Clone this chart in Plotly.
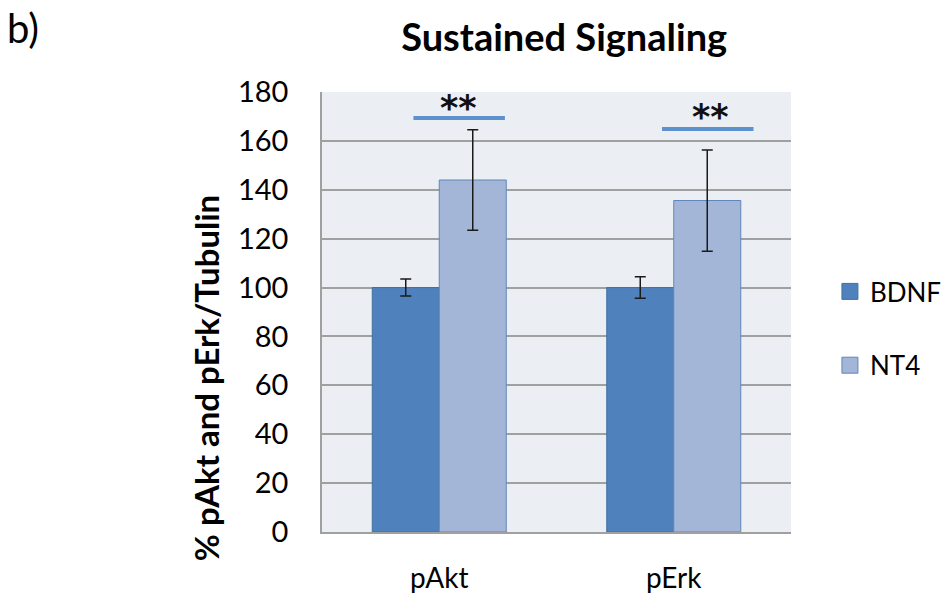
import plotly.graph_objects as go

categories = ["pAkt", "pErk"]
series_names = ["BDNF", "NT4"]
bdnf_values = [100, 100]
nt4_values = [144, 135.6]
bdnf_errors = [3.5, 4.4]
nt4_errors = [20.6, 20.7]

# significance markers: [x_start, x_end] in category units, y level, star position
sig_x0 = [-0.11, 0.95]
sig_x1 = [0.28, 1.34]
sig_y = [169.4, 164.9]
star_x = [0.084, 1.155]
star_y = [175.2, 171.4]
star_text = ["**", "**"]

FONT = "Lato"
c_bdnf = "#4F81BD"
c_nt4 = "#A4B6D8"

fig = go.Figure()
fig.add_trace(go.Bar(
    x=categories, y=bdnf_values, name=series_names[0],
    marker=dict(color=c_bdnf, line=dict(color="#41719F", width=1)),
    error_y=dict(type="data", array=bdnf_errors, color="#1a1a1a", thickness=1.5, width=5.5),
    showlegend=False,
))
fig.add_trace(go.Bar(
    x=categories, y=nt4_values, name=series_names[1],
    marker=dict(color=c_nt4, line=dict(color="#5F86BA", width=1)),
    error_y=dict(type="data", array=nt4_errors, color="#1a1a1a", thickness=1.5, width=5.5),
    showlegend=False,
))
# legend entries with larger square symbols
for nm, col, lc in [(series_names[0], c_bdnf, "#41719F"), (series_names[1], c_nt4, "#5F86BA")]:
    fig.add_trace(go.Scatter(
        x=[None], y=[None], mode="markers", name=nm, legendgroup=nm,
        marker=dict(symbol="square", size=18, color=col, line=dict(color=lc, width=1)),
    ))

for i in range(len(sig_y)):
    fig.add_shape(type="line", xref="x", yref="y", x0=sig_x0[i], x1=sig_x1[i],
                  y0=sig_y[i], y1=sig_y[i], line=dict(color="#5D91CE", width=4))
    fig.add_annotation(x=star_x[i], y=star_y[i], xref="x", yref="y", text="<b>" + star_text[i] + "</b>",
                       showarrow=False, font=dict(family="DejaVu Sans", size=35, color="#111"),
                       yanchor="middle", yshift=-4)

fig.add_annotation(x=-0.247, y=0.35, xref="paper", yref="paper",
                   text="<b>% pAkt and pErk/Tubulin</b>", textangle=-90, showarrow=False,
                   xanchor="center", yanchor="middle",
                   font=dict(family=FONT, size=33, color="#000"))
fig.add_annotation(x=-0.676, y=1.205, xref="paper", yref="paper", text="b)",
                   showarrow=False, xanchor="left", yanchor="top",
                   font=dict(family=FONT, size=40, color="#000"))

fig.update_layout(
    width=945, height=595,
    margin=dict(l=322, r=154, t=92, b=63, autoexpand=False),
    paper_bgcolor="white", plot_bgcolor="#EBEEF3",
    barmode="group", bargap=0.4286, bargroupgap=0,
    title=dict(text="<b>Sustained Signaling</b>", x=0.597, xanchor="center",
               y=0.936, yanchor="middle", font=dict(family=FONT, size=38, color="#000")),
    font=dict(family=FONT, size=28, color="#000"),
    legend=dict(x=1.083, xanchor="left", y=0.6, yanchor="top",
                font=dict(family=FONT, size=26), tracegroupgap=37,
                bgcolor="rgba(0,0,0,0)"),
)
fig.update_yaxes(range=[0, 180], dtick=20, showgrid=True, gridcolor="#A0A0A0", gridwidth=1.5,
                 showline=True, linecolor="#A0A0A0", linewidth=1.5, ticks="",
                 ticklabelstandoff=26, tickfont=dict(family=FONT, size=29), zeroline=False,
                 fixedrange=True, automargin=False)
fig.update_xaxes(showline=True, linecolor="#A0A0A0", linewidth=1.5, ticks="",
                 ticklabelstandoff=21, tickfont=dict(family=FONT, size=28), showgrid=False,
                 fixedrange=True, automargin=False)

fig.write_html("out.html", config={"displayModeBar": False},
               post_script="document.body.style.margin='0';document.body.style.overflow='hidden';")
